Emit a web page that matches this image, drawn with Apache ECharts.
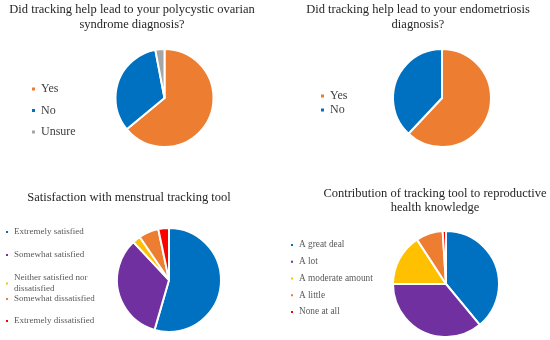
<!DOCTYPE html>
<html>
<head>
<meta charset="utf-8">
<script src="https://cdn.jsdelivr.net/npm/echarts@6/dist/echarts.min.js"></script>
<style>
  html, body { margin: 0; padding: 0; background: #ffffff; }
  #chart { width: 550px; height: 340px; }
</style>
</head>
<body>
<div id="chart"></div>
<script>
// ---- Data ----
const pcosTitle = 'Did tracking help lead to your polycystic ovarian\nsyndrome diagnosis?';
const pcosCategories = ['Yes', 'No', 'Unsure'];
const pcosValues = [64, 33, 3];

const endoTitle = 'Did tracking help lead to your endometriosis\ndiagnosis?';
const endoCategories = ['Yes', 'No'];
const endoValues = [62, 38];

const satisfactionTitle = 'Satisfaction with menstrual tracking tool';
const satisfactionCategories = ['Extremely satisfied', 'Somewhat satisfied', 'Neither satisfied nor\ndissatisfied', 'Somewhat dissatisfied', 'Extremely dissatisfied'];
const satisfactionValues = [54.5, 33.5, 2.5, 6.2, 3.3];

const contributionTitle = 'Contribution of tracking tool to reproductive\nhealth knowledge';
const contributionCategories = ['A great deal', 'A lot', 'A moderate amount', 'A little', 'None at all'];
const contributionValues = [39, 36, 15.8, 8.2, 1];

// ---- Styles ----
const pcosColors = ['#ED7D31', '#0070C0', '#A5A5A5'];
const endoColors = ['#ED7D31', '#0070C0'];
const satisfactionColors = ['#0070C0', '#7030A0', '#FFC000', '#ED7D31', '#FF0000'];
const contributionColors = ['#0070C0', '#7030A0', '#FFC000', '#ED7D31', '#FF0000'];

const serif = '"Liberation Serif", "DejaVu Serif", serif';

function makeData(cats, vals, cols) {
  return cats.map((c, i) => ({ name: c, value: vals[i], itemStyle: { color: cols[i] } }));
}

function pieSeries(name, cats, vals, cols, center, radius) {
  return {
    type: 'pie',
    name: name,
    center: center,
    radius: radius,
    startAngle: 90,
    clockwise: true,
    label: { show: false },
    labelLine: { show: false },
    emphasis: { disabled: true },
    silent: true,
    animation: false,
    itemStyle: { borderColor: '#ffffff', borderWidth: 2 },
    data: makeData(cats, vals, cols)
  };
}

const titleStyle = { fontFamily: serif, fontSize: 12.5, fontWeight: 'normal', color: '#262626', lineHeight: 15 };

const chart = echarts.init(document.getElementById('chart'), null, { renderer: 'canvas' });

const option = {
  backgroundColor: '#ffffff',
  animation: false,
  title: [
    { text: pcosTitle, left: 132, top: 2, padding: 0, textAlign: 'center', textStyle: titleStyle },
    { text: endoTitle, left: 418, top: 2, padding: 0, textAlign: 'center', textStyle: titleStyle },
    { text: satisfactionTitle, left: 129, top: 190, padding: 0, textAlign: 'center', textStyle: titleStyle },
    { text: contributionTitle, left: 435, top: 186, padding: 0, textAlign: 'center', textStyle: Object.assign({}, titleStyle, { lineHeight: 14.5 }) }
  ],
  legend: [
    {
      orient: 'vertical', left: 30, top: 82, padding: 0, itemGap: 7.5,
      itemWidth: 5, itemHeight: 5, icon: 'rect', selectedMode: false,
      data: pcosCategories,
      textStyle: { fontFamily: serif, fontSize: 12, color: '#404040', lineHeight: 14 }
    },
    {
      orient: 'vertical', left: 319, top: 89, padding: 0, itemGap: 0,
      itemWidth: 5, itemHeight: 5, icon: 'rect', selectedMode: false,
      data: endoCategories,
      textStyle: { fontFamily: serif, fontSize: 12, color: '#404040', lineHeight: 14 }
    },
    {
      orient: 'vertical', left: 4, top: 226.5, padding: 0, itemGap: 12,
      itemWidth: 4, itemHeight: 4, icon: 'rect', selectedMode: false,
      data: satisfactionCategories.slice(0, 3),
      textStyle: { fontFamily: serif, fontSize: 9, color: '#595959', lineHeight: 11 }
    },
    {
      orient: 'vertical', left: 4, top: 293.5, padding: 0, itemGap: 11,
      itemWidth: 4, itemHeight: 4, icon: 'rect', selectedMode: false,
      data: satisfactionCategories.slice(3),
      textStyle: { fontFamily: serif, fontSize: 9, color: '#595959', lineHeight: 11 }
    },
    {
      orient: 'vertical', left: 289, top: 239.5, padding: 0, itemGap: 5.75,
      itemWidth: 4, itemHeight: 4, icon: 'rect', selectedMode: false,
      data: contributionCategories,
      textStyle: { fontFamily: serif, fontSize: 9.3, color: '#595959', lineHeight: 11 }
    }
  ],
  series: [
    pieSeries('pcos', pcosCategories, pcosValues, pcosColors, [164.5, 98], 49),
    pieSeries('endo', endoCategories, endoValues, endoColors, [442, 98], 49),
    pieSeries('satisfaction', satisfactionCategories, satisfactionValues, satisfactionColors, [169, 280], 52),
    pieSeries('contribution', contributionCategories, contributionValues, contributionColors, [446, 284], 53)
  ]
};

chart.setOption(option);
</script>
</body>
</html>
